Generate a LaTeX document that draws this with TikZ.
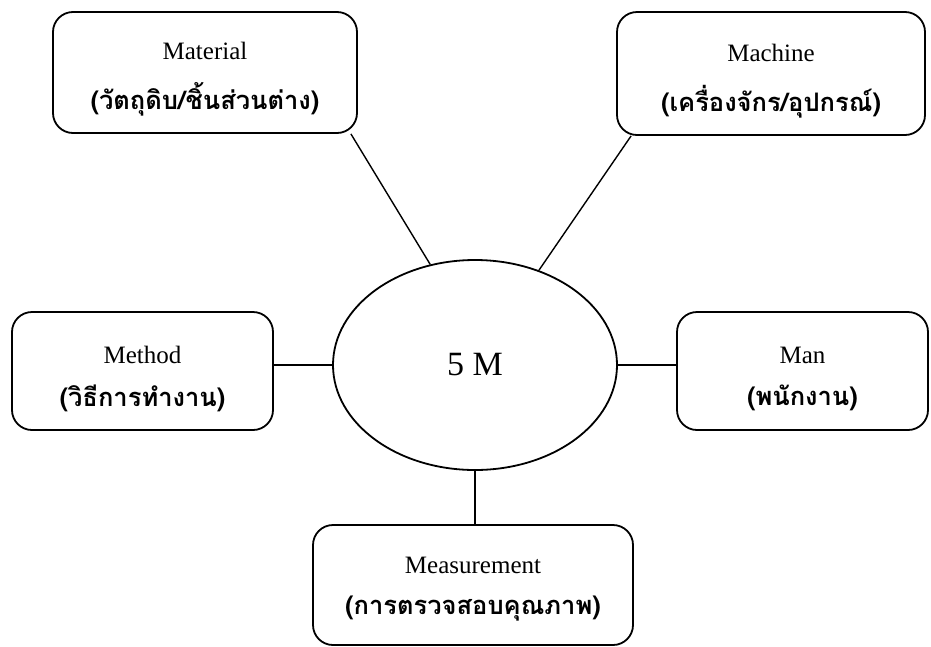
\documentclass[tikz,border=0pt]{standalone}
\usepackage{fontspec}
\setmainfont{Liberation Serif}
\newfontfamily\thaifont[Script=Thai]{Loma}
\usetikzlibrary{shapes.geometric,calc}
\tikzset{
  mbox/.style={draw=black, line width=1.8pt, rounded corners=20pt, inner sep=0pt},
  entxt/.style={inner sep=0pt, font=\fontsize{25}{30}\selectfont},
  thtxt/.style={inner sep=0pt, font=\thaifont\bfseries\fontsize{25.5}{30}\selectfont},
  link/.style={draw=black, line width=1.4pt}
}
\begin{document}
\begin{tikzpicture}[x=1pt,y=-1pt]
\useasboundingbox (0,0) rectangle (931,646);
% boxes
\node[mbox, minimum width=304pt, minimum height=121pt] (mat) at (205,72.5) {};
\node[mbox, minimum width=308pt, minimum height=123pt] (mac) at (771,73.5) {};
\node[mbox, minimum width=261pt, minimum height=118pt] (met) at (142.5,371) {};
\node[mbox, minimum width=251pt, minimum height=118pt] (man) at (802.5,371) {};
\node[mbox, minimum width=320pt, minimum height=120pt] (mea) at (473,585) {};
\node[draw=black, line width=1.8pt, ellipse, minimum width=284pt, minimum height=210pt,
  inner sep=0pt, font=\fontsize{34}{40}\selectfont] (ell) at (475,365) {5 M};
% texts
\node[entxt] (matE) at ($(mat.center)+(0,-22)$) {Material};
\node[thtxt] (matT) at ($(mat.center)+(0,27)$) {(วัตถุดิบ/ชิ้นส่วนต่าง)};
\node[entxt] (macE) at ($(mac.center)+(0,-21)$) {Machine};
\node[thtxt] (macT) at ($(mac.center)+(0,28)$) {(เครื่องจักร/อุปกรณ์)};
\node[entxt] (metE) at ($(met.center)+(0,-16)$) {Method};
\node[thtxt] (metT) at ($(met.center)+(0,27)$) {(วิธีการทำงาน)};
\node[entxt] (manE) at ($(man.center)+(0,-16)$) {Man};
\node[thtxt] (manT) at ($(man.center)+(0,27)$) {(พนักงาน)};
\node[entxt] (meaE) at ($(mea.center)+(0,-20)$) {Measurement};
\node[thtxt] (meaT) at ($(mea.center)+(0,24)$) {(การตรวจสอบคุณภาพ)};
% connectors
\draw[link] ($(mat.south east)+(-7,0)$) -- (ell.114);
\draw[link] ($(mac.south west)+(15,0)$) -- (ell.56);
\draw[link] (ell.west) -- (ell.west -| met.east);
\draw[link] (ell.east) -- (ell.east -| man.west);
\draw[link] (ell.south) -- (ell.south |- mea.north);
\end{tikzpicture}
\end{document}
